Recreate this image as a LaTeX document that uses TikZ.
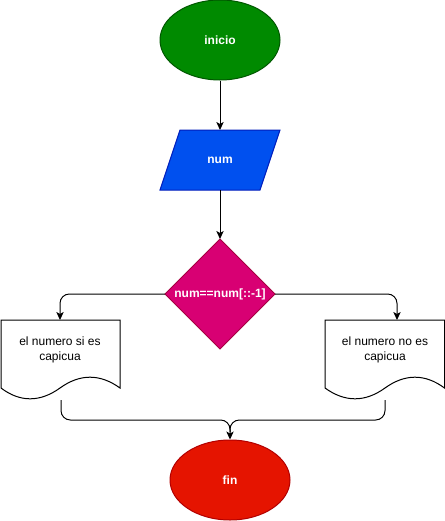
\documentclass[tikz,border=0pt]{standalone}
\usepackage{fontspec}
\setmainfont{Liberation Sans}
\usetikzlibrary{shapes.geometric,arrows.meta}
\definecolor{gfill}{HTML}{008A00}\definecolor{gline}{HTML}{005700}
\definecolor{bfill}{HTML}{0050EF}\definecolor{bline}{HTML}{001DBC}
\definecolor{pfill}{HTML}{D80073}\definecolor{pline}{HTML}{A50040}
\definecolor{rfill}{HTML}{E51400}\definecolor{rline}{HTML}{B20000}
\begin{document}
\begin{tikzpicture}[x=0.75pt,y=-0.75pt,
  term/.style={ellipse,minimum width=90pt,minimum height=60pt,inner sep=0pt,line width=0.75pt},
  wlbl/.style={font=\bfseries\fontsize{9}{11}\selectfont,text=white,inner sep=1pt},
  dlbl/.style={font=\fontsize{9}{11.5}\selectfont,align=center,inner sep=1pt},
  shp/.style={line width=0.75pt},
  conn/.style={draw=black,line width=0.75pt,rounded corners=7pt,-{Stealth[length=6pt,width=5.5pt,inset=1.5pt]}},
  plain/.style={draw=black,line width=0.75pt,rounded corners=7pt}]
\useasboundingbox (0,0) rectangle (445,521);
% start
\node[term,fill=gfill,draw=gline] (ini) at (220,40) {};
\node[wlbl] (iniT) at (220,40) {inicio};
% input
\path[shp,fill=bfill,draw=bline] (180,130)--(280,130)--(260,190)--(160,190)--cycle;
\node[wlbl] (num) at (220,160) {num};
\coordinate (numN) at (220,130);
\coordinate (numS) at (220,190);
% decision
\path[shp,fill=pfill,draw=pline] (220,239)--(275,294)--(220,349)--(165,294)--cycle;
\node[wlbl] (dec) at (220,294) {num==num[::-1]};
\coordinate (decN) at (220,239);
\coordinate (decW) at (165,294);
\coordinate (decE) at (275,294);
% documents
\path[shp,fill=white,draw=black] (1,320)--(120,320)--(120,388) .. controls (100,373.6) and (80,373.6) .. (60,388) .. controls (40,402.4) and (20,402.4) .. (1,388) -- cycle;
\node[dlbl] (si) at (60,350) {el numero si es\\capicua};
\coordinate (siN) at (60,320);
\coordinate (siS) at (61,400);
\path[shp,fill=white,draw=black] (325,320)--(444.5,320)--(444.5,388) .. controls (425,373.6) and (405,373.6) .. (385,388) .. controls (365,402.4) and (345,402.4) .. (325,388) -- cycle;
\node[dlbl] (no) at (385,350) {el numero no es\\capicua};
\coordinate (noN) at (397,320);
\coordinate (noS) at (385,400);
% end
\node[term,fill=rfill,draw=rline] (fin) at (230,480) {};
\node[wlbl] (finT) at (230,480) {fin};
% connectors
\draw[conn] (ini.south) -- (numN);
\draw[conn] (numS) -- (decN);
\draw[conn] (decW) -- (60,294) -- (siN);
\draw[conn] (decE) -- (397,294) -- (noN);
\draw[conn] (siS) -- (61,420) -- (230,420) -- (fin.north);
\draw[plain] (noS) -- (385,420) -- (230,420) -- (230,432);
\end{tikzpicture}
\end{document}
